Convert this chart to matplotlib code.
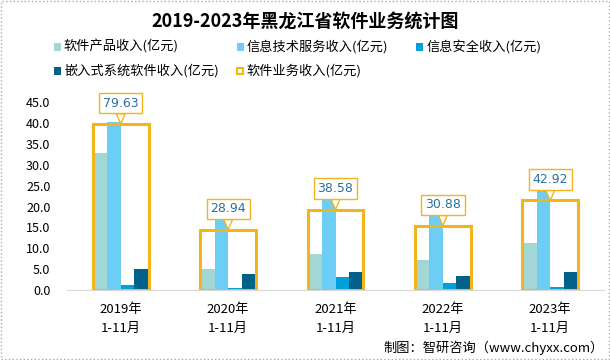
import matplotlib
matplotlib.use('Agg')
import matplotlib.pyplot as plt
import numpy as np
from matplotlib.patches import Rectangle

plt.rcParams['font.family'] = ['Noto Sans CJK SC', 'DejaVu Sans']

# datos
anios = ['2019年\n1-11月', '2020年\n1-11月', '2021年\n1-11月', '2022年\n1-11月', '2023年\n1-11月']
producto_software = [32.8, 5.0, 8.6, 7.2, 11.3]
servicio_ti = [40.2, 19.4, 22.4, 18.5, 26.3]
seguridad_info = [1.2, 0.55, 3.1, 1.7, 0.8]
sistema_embebido = [5.0, 3.8, 4.3, 3.4, 4.3]
negocio_software = [79.63, 28.94, 38.58, 30.88, 42.92]

nombres = ['软件产品收入(亿元)', '信息技术服务收入(亿元)', '信息安全收入(亿元)',
           '嵌入式系统软件收入(亿元)', '软件业务收入(亿元)']
colores = ['#A2D7D5', '#6DCEF5', '#00A0D8', '#00628A']
dorado = '#F2B51C'

fig = plt.figure(figsize=(6.1, 3.6), dpi=100)
ax = fig.add_axes([0.110, 0.1944, 0.880, 0.5215])

x = np.arange(len(anios))
ancho = 0.125
series = [producto_software, servicio_ti, seguridad_info, sistema_embebido]
for k, (s, c) in enumerate(zip(series, colores)):
    ax.bar(x + (k - 1.5) * ancho, s, ancho, color=c, zorder=2)

ax.set_xlim(-0.5, len(anios) - 0.5)
ax.set_ylim(0, 45)
ax.set_yticks(np.arange(0, 46, 5))
ax.set_yticklabels([f'{v:.1f}' for v in np.arange(0, 46, 5)], fontsize=9)
ax.set_xticks(x)
ax.set_xticklabels(anios, fontsize=9.5, linespacing=1.6)
ax.tick_params(length=0, pad=9)
ax.tick_params(axis='y', pad=12)
for lado in ['top', 'right', 'left']:
    ax.spines[lado].set_visible(False)
ax.spines['bottom'].set_color('#d9d9d9')

# eje secundario para el total
ax2 = ax.twinx()
ax2.set_ylim(0, 90)
ax2.bar(x, negocio_software, 4 * ancho + 0.02, fill=False, edgecolor=dorado, linewidth=2.2, zorder=3)
ax2.axis('off')
for i, v in enumerate(negocio_software):
    ax2.annotate(f'{v:.2f}', xy=(i, v), xytext=(0, 15), textcoords='offset points',
                 ha='center', va='center', fontsize=9, color='#2A6F9E', family='DejaVu Sans',
                 bbox=dict(boxstyle='square,pad=0.3', fc='white', ec=dorado, lw=1),
                 arrowprops=dict(arrowstyle='wedge,tail_width=0.7', fc='white', ec=dorado,
                                 lw=1, shrinkA=0, shrinkB=0))

# titulo
fig.text(0.5, 0.938, '2019-2023年黑龙江省软件业务统计图', ha='center', va='center',
         fontsize=13, fontweight='bold')

# leyenda manual
pos_leyenda = [(57, 47), (240, 47), (420, 47), (57, 71), (240, 71)]
for k, ((px, py), nombre) in enumerate(zip(pos_leyenda, nombres)):
    fx, fy = px / 610, 1 - py / 360
    if k < 4:
        fig.patches.append(Rectangle((fx - 3.5 / 610, fy - 3.5 / 360), 7 / 610, 7 / 360,
                                     transform=fig.transFigure, fc=colores[k], ec='none'))
    else:
        fig.patches.append(Rectangle((fx - 3 / 610, fy - 3 / 360), 6 / 610, 6 / 360,
                                     transform=fig.transFigure, fc='white', ec=dorado, lw=1.5))
    fig.text(fx + 7 / 610, fy, nombre, ha='left', va='center', fontsize=9.5)

fig.text(0.99, 0.033, '制图：智研咨询（www.chyxx.com）', ha='right', va='center', fontsize=9.5)

fig.patches.append(Rectangle((0.001, 0.002), 0.997, 0.995, transform=fig.transFigure,
                             fill=False, ec='#aaaaaa', lw=1, ls=':'))

fig.savefig('out.png', dpi=100)
